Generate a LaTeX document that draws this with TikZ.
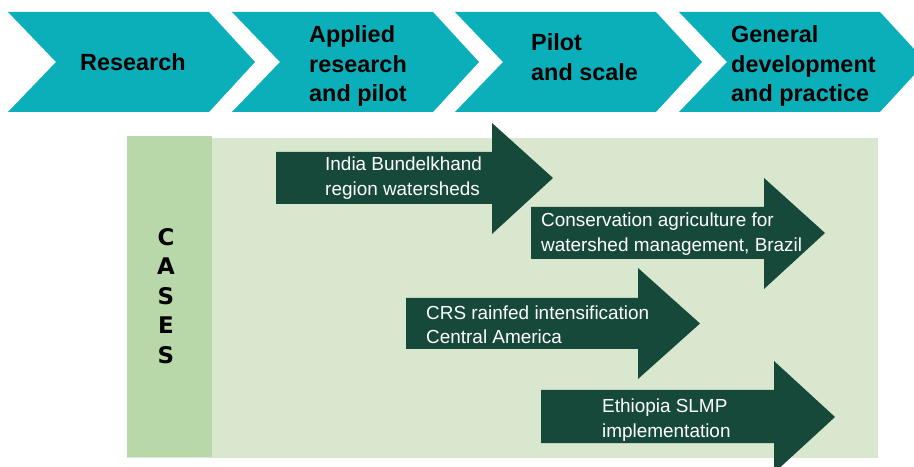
\documentclass[tikz,border=0pt]{standalone}
\usepackage{fontspec}
\setmainfont{Liberation Sans}
\newfontfamily\casesfont{DejaVu Sans}[UprightFont={* Bold}]
\definecolor{chevteal}{RGB}{10,175,185}
\definecolor{casegreen}{RGB}{23,73,58}
\definecolor{panelgreen}{RGB}{216,231,206}
\definecolor{stripgreen}{RGB}{184,216,170}
\tikzset{
  chevron/.style={fill=chevteal},
  chevtext/.style={anchor=west, align=left, inner sep=0pt, text=black,
    font=\bfseries\fontsize{23.5}{29.5}\selectfont},
  casearrow/.style={fill=casegreen},
  casetext/.style={anchor=west, align=left, inner sep=0pt, text=white,
    font=\fontsize{19}{24.5}\selectfont},
  caseslabel/.style={align=center, inner sep=0pt, text=black,
    font=\casesfont\fontsize{23}{29.5}\selectfont}
}
\begin{document}
\begin{tikzpicture}[x=1bp,y=-1bp]
\useasboundingbox (0,0) rectangle (914,467);
\fill[white] (0,0) rectangle (914,467);
% stage chevrons
\foreach \L in {8,232,455,679}{
  \fill[chevron] (\L,12) -- (\L+201,12) -- (\L+247,62) -- (\L+201,112)
    -- (\L,112) -- (\L+48,62) -- cycle;
}
\node[chevtext] (research) at (80,62) {Research};
\node[chevtext] (applied) at (309,66) {Applied\\research\\and pilot};
\node[chevtext] (pilot) at (531,57) {Pilot\\and scale};
\node[chevtext] (general) at (731,66) {General\\development\\and practice};
% panel
\fill[panelgreen] (127,138) rectangle (878,458);
\fill[stripgreen] (127,136) rectangle (212,457);
\node[caseslabel] (cases) at (166,296) {C\\A\\S\\E\\S};
% case arrows
\newcommand\casearrowpath[8]{%
  \fill[casearrow] (#1,#3) -- (#2,#3) -- (#2,#5) -- (#7,#8) -- (#2,#6)
    -- (#2,#4) -- (#1,#4) -- cycle;}
\casearrowpath{276}{492}{152}{204}{123}{234}{553}{178}
\casearrowpath{531}{764}{207}{259}{178}{289}{825}{233}
\casearrowpath{406}{638}{298}{349}{268}{379}{700}{323.5}
\casearrowpath{541}{774}{390}{443}{361}{473}{835}{417}
\node[casetext] (india) at (325,178) {India Bundelkhand\\region watersheds};
\node[casetext] (conservation) at (541,234) {Conservation agriculture for\\watershed management, Brazil};
\node[casetext] (crs) at (426,325) {CRS rainfed intensification\\Central America};
\node[casetext] (ethiopia) at (602,420) {Ethiopia SLMP\\implementation};
\end{tikzpicture}
\end{document}
